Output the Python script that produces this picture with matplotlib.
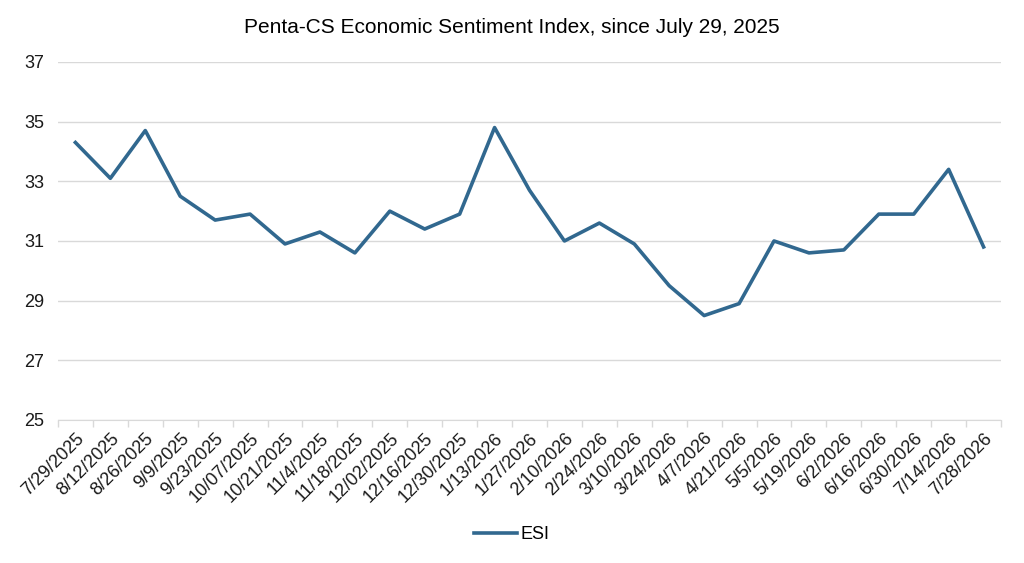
import matplotlib
matplotlib.use('Agg')
import matplotlib.pyplot as plt
import numpy as np

dates = ['7/29/2025', '8/12/2025', '8/26/2025', '9/9/2025', '9/23/2025', '10/07/2025',
         '10/21/2025', '11/4/2025', '11/18/2025', '12/02/2025', '12/16/2025', '12/30/2025',
         '1/13/2026', '1/27/2026', '2/10/2026', '2/24/2026', '3/10/2026', '3/24/2026',
         '4/7/2026', '4/21/2026', '5/5/2026', '5/19/2026', '6/2/2026', '6/16/2026',
         '6/30/2026', '7/14/2026', '7/28/2026']
esi = [34.3, 33.1, 34.7, 32.5, 31.7, 31.9, 30.9, 31.3, 30.6, 32.0, 31.4, 31.9,
       34.8, 32.7, 31.0, 31.6, 30.9, 29.5, 28.5, 28.9, 31.0, 30.6, 30.7, 31.9,
       31.9, 33.4, 30.8]
yticks = [25, 27, 29, 31, 33, 35, 37]

plt.rcParams['font.family'] = ['Liberation Sans', 'DejaVu Sans']

fig = plt.figure(figsize=(10.24, 5.63), dpi=100)
ax = fig.add_axes([0.0566, 0.254, 0.921, 0.636])

x = np.arange(len(dates))
ax.plot(x, esi, color='#31688F', linewidth=2.6, label='ESI')

ax.set_xlim(-0.5, len(dates) - 0.5)
ax.set_ylim(25, 37)
ax.set_yticks(yticks)
ax.set_yticklabels([str(v) for v in yticks], fontsize=13, color='#1a1a1a')
ax.yaxis.grid(True, color='#D9D9D9', linewidth=1)
ax.set_axisbelow(True)
ax.tick_params(axis='y', length=0, pad=10)

ax.set_xticks(x)
ax.set_xticklabels(dates, rotation=45, ha='right', rotation_mode='anchor',
                   fontsize=13, color='#1a1a1a')
ax.set_xticks(np.arange(-0.5, len(dates), 1), minor=True)
ax.tick_params(axis='x', which='major', length=0, pad=7)
ax.tick_params(axis='x', which='minor', length=5, color='#D9D9D9', width=1)

for s in ['top', 'right', 'left']:
    ax.spines[s].set_visible(False)
ax.spines['bottom'].set_color('#D9D9D9')

fig.suptitle('Penta-CS Economic Sentiment Index, since July 29, 2025',
             fontsize=15, y=0.968, x=0.5)

fig.legend(loc='center', bbox_to_anchor=(0.5, 0.05), frameon=False,
           fontsize=13, handlelength=2.4, handletextpad=0.2)

fig.savefig('out.png', dpi=100)
